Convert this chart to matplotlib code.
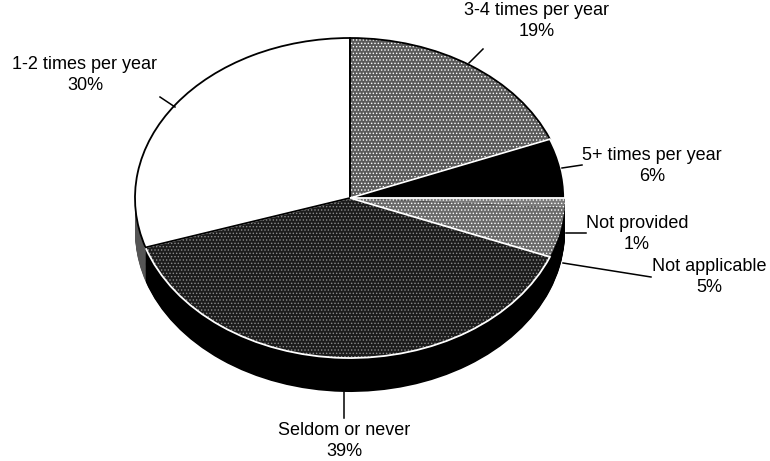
import matplotlib
matplotlib.use("Agg")
import matplotlib.pyplot as plt
import numpy as np

labels = ["3-4 times per year", "5+ times per year", "Not provided",
          "Not applicable", "Seldom or never", "1-2 times per year"]
shares = [19, 6, 1, 5, 39, 30]

top_colors = ["#5a5a5a", "#000000", "#7a7a7a", "#6a6a6a", "#1c1c1c", "#ffffff"]
hatch_colors = ["#ffffff", "#000000", "#ffffff", "#ffffff", "#8c8c8c", "#ffffff"]
hatches = [".....", None, ".....", ".....", ".....", None]
side_colors = ["#000000", "#000000", "#000000", "#000000", "#000000", "#555555"]
edge_colors = ["#000000", "#ffffff", "none", "none", "#ffffff", "#000000"]
edge_order = [5, 6, 3, 3, 4, 5]

# label centre and leader line, in pixels of the 770x461 picture
label_pos = [(537, 21), (652, 166), (637, 234), (709, 277), (344, 441), (85, 75)]
leaders = [((483, 49), (469, 63)), ((582, 165), (562, 168)), ((566, 233), (586, 233)),
           ((563, 263), (651, 277)), ((344, 392), (344, 418)), ((160, 97), (175, 107))]

CX, CY, RX, RY = 350, 198, 215, 160
DEPTH = 34 / RY
W, H = 770, 461

plt.rcParams["font.family"] = ["Liberation Sans", "DejaVu Sans"]
plt.rcParams["hatch.linewidth"] = 0.6

fig = plt.figure(figsize=(W / 100, H / 100), dpi=100, facecolor="white")
ax = fig.add_axes([0, 0, 1, 1])

# side of the pie: same slices stacked downwards
for d in np.linspace(DEPTH, 0, 40):
    ax.pie(shares, colors=side_colors, startangle=90, counterclock=False,
           center=(0, -d), wedgeprops={"linewidth": 0})

# top face with stipple
wedges, _ = ax.pie(shares, colors=top_colors, startangle=90, counterclock=False,
                   wedgeprops={"linewidth": 0})
for w, hc, h in zip(wedges, hatch_colors, hatches):
    w.set_edgecolor(hc)
    w.set_hatch(h)
    w.set_linewidth(0)

# slice outlines
outlines, _ = ax.pie(shares, colors=["none"] * len(shares), startangle=90, counterclock=False,
                     wedgeprops={"linewidth": 1.3})
for w, ec, z in zip(outlines, edge_colors, edge_order):
    w.set_edgecolor(ec)
    w.set_zorder(z)

ax.set_aspect("auto")
ax.set_xlim(-CX / RX, (W - CX) / RX)
ax.set_ylim((CY - H) / RY, CY / RY)
ax.axis("off")

for (p0, p1) in leaders:
    fig.add_artist(plt.Line2D([p0[0] / W, p1[0] / W], [1 - p0[1] / H, 1 - p1[1] / H],
                              color="black", lw=1.1))

for lab, share, (x, y) in zip(labels, shares, label_pos):
    fig.text(x / W, 1 - y / H, f"{lab}\n{share}%", ha="center", va="center",
             fontsize=13, linespacing=1.35, color="black")

fig.savefig("out.png", dpi=100)
